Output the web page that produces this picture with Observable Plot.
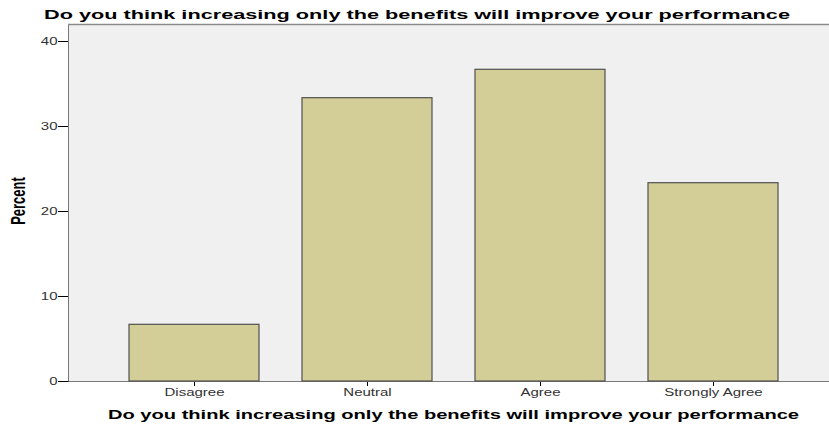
<!DOCTYPE html>
<html>
<head>
<meta charset="utf-8">
<script src="https://cdn.jsdelivr.net/npm/d3@7"></script>
<script src="https://cdn.jsdelivr.net/npm/@observablehq/plot@0.6"></script>
<style>
  body { margin: 0; background: #fff; }
  #chart svg { overflow: hidden; display: block; }
</style>
</head>
<body>
<div id="chart"></div>
<script>
const categories = ["Disagree", "Neutral", "Agree", "Strongly Agree"];
const percents = [6.67, 33.33, 36.67, 23.33];
const yTicks = [0, 10, 20, 30, 40];
const titleText = "Do you think increasing only the benefits will improve your performance";
const xLabelText = "Do you think increasing only the benefits will improve your performance";
const yLabelText = "Percent";

const data = categories.map((c, i) => ({ category: c, percent: percents[i] }));
const yMax = 42;

const plot = Plot.plot({
  width: 829,
  height: 427,
  marginLeft: 68,
  marginRight: 0,
  marginTop: 24,
  marginBottom: 46,
  style: { fontFamily: "'Liberation Sans', Arial, sans-serif", fontSize: "10px", background: "#fff", color: "#000" },
  x: { domain: categories, range: [68, 838], paddingInner: 0.25, paddingOuter: 0.345, label: null, tickSize: 5, tickPadding: 2, line: true },
  y: { domain: [0, yMax], ticks: yTicks, tickSize: 10, tickPadding: 1, label: null, line: true },
  marks: [
    Plot.frame({ fill: "#f0f0f0", stroke: null }),
    Plot.ruleY([yMax], { stroke: "#8a8a8a", strokeWidth: 1.5 }),
    Plot.barY(data, { x: "category", y: "percent", fill: "#d3ce97", stroke: "#505050", strokeWidth: 1.2 })
  ]
});

document.getElementById("chart").append(plot);
const svg = d3.select(plot);

// stretch tick labels horizontally (reference is rendered wide)
svg.selectAll("text").each(function () {
  const len = this.getComputedTextLength();
  if (len > 0) {
    this.setAttribute("textLength", (len * 1.5).toFixed(1));
    this.setAttribute("lengthAdjust", "spacingAndGlyphs");
  }
  this.setAttribute("fill", "#333");
});

function addText(txt, x, y, size, length, extra) {
  const t = svg.append("text")
    .attr("x", x).attr("y", y)
    .attr("text-anchor", "middle")
    .attr("font-family", "'Liberation Sans', Arial, sans-serif")
    .attr("font-weight", "bold")
    .attr("font-size", size)
    .attr("fill", "#000")
    .text(txt);
  if (length) t.attr("textLength", length).attr("lengthAdjust", "spacingAndGlyphs");
  if (extra) extra(t);
  return t;
}

addText(titleText, 417, 18.5, 13.5, 746);
addText(xLabelText, 453.5, 419, 13.5, 691);
addText(yLabelText, 0, 0, 13, null, t => t.attr("transform", "translate(25,201) scale(1.5,1) rotate(-90)"));
</script>
</body>
</html>
